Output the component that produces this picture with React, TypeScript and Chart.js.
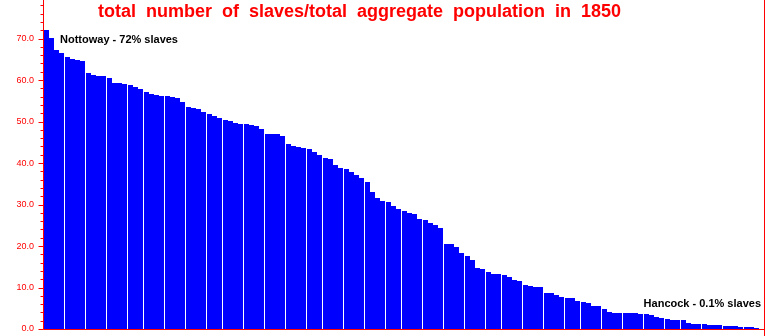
import { useEffect, useRef } from 'react';
import { Chart, registerables } from 'chart.js';

Chart.register(...registerables);

const TITLE = 'total number of slaves/total aggregate population in 1850';

// percent of slaves in total population, counties sorted descending
const slavePct = [
  72.0, 70.2, 67.3, 66.5, 65.5, 65.1, 64.8, 64.6, 61.7, 61.2, 61.0, 61.0, 60.5, 59.3,
  59.3, 59.0, 58.8, 58.3, 57.8, 57.1, 56.6, 56.4, 56.1, 56.1, 55.9, 55.7, 54.7, 53.5,
  53.2, 53.0, 52.3, 51.8, 51.3, 50.8, 50.4, 50.1, 49.6, 49.4, 49.4, 49.2, 48.9, 48.2,
  47.0, 47.0, 47.0, 46.5, 44.6, 44.1, 43.9, 43.6, 43.4, 42.7, 41.9, 41.2, 41.0,
  39.5, 38.8, 38.6, 37.8, 37.1, 36.4, 35.4, 33.0, 31.6, 30.8, 30.6, 29.6, 28.9, 28.4,
  27.9, 27.7, 26.5, 26.3, 25.5, 25.1, 24.3, 20.5, 20.5, 19.8, 18.3, 17.6,
  16.6, 14.7, 14.5, 13.7, 13.3, 13.3, 13.0, 12.5, 11.8, 11.6, 10.6, 10.4, 10.1, 10.1,
  8.7, 8.7, 8.2, 7.7, 7.5, 7.5, 6.7, 6.5, 6.3, 5.5, 5.5, 4.8,
  4.0, 3.9, 3.9, 3.9, 3.8, 3.8, 3.6, 3.5, 3.4, 2.9, 2.6, 2.3, 2.2, 2.1, 2.1, 1.5,
  1.2, 1.2, 1.1, 0.9, 0.9, 0.9, 0.7, 0.7, 0.7, 0.5, 0.5, 0.4, 0.3,
];

const countyRanks = slavePct.map((_, i) => String(i + 1));

const yLabelValues = [0, 10, 20, 30, 40, 50, 60, 70];
const yMinorTickValues = [
  0, 2, 4, 6, 8, 10, 12, 14, 16, 18, 20, 22, 24, 26, 28, 30, 32, 34, 36, 38, 40,
  42, 44, 46, 48, 50, 52, 54, 56, 58, 60, 62, 64, 66, 68, 70, 72, 74, 76, 78,
];

const topLabel = 'Nottoway - 72% slaves';
const bottomLabel = 'Hancock - 0.1% slaves';

const RED = '#ff0000';
const BLUE = '#0000ff';

// snap bars to whole pixels (integer width), like the original bitmap renderer
const pixelSnapPlugin = {
  id: 'pixelSnap',
  afterDatasetsUpdate(chart: any) {
    const meta = chart.getDatasetMeta(0);
    meta.data.forEach((el: any) => {
      const w = el.width;
      const left = Math.floor(el.x - w / 2);
      const iw = Math.floor(w);
      el.x = left + iw / 2;
      el.width = iw;
      el.y = Math.round(el.y);
    });
  },
};

const decorPlugin = {
  id: 'decor',
  afterDraw(chart: any) {
    const ctx = chart.ctx as CanvasRenderingContext2D;
    const ca = chart.chartArea;
    const y = chart.scales.y;
    const W = chart.width;
    const H = chart.height;
    ctx.save();
    ctx.strokeStyle = RED;
    ctx.lineWidth = 1;
    const axX = ca.left - 0.5;
    const axY = ca.bottom + 0.5;
    ctx.beginPath();
    ctx.moveTo(axX, 0);
    ctx.lineTo(axX, axY);
    ctx.moveTo(axX, axY);
    ctx.lineTo(W - 1.5, axY);
    ctx.moveTo(W - 1.5, 0);
    ctx.lineTo(W - 1.5, H);
    for (const v of yMinorTickValues) {
      const py = Math.round(y.getPixelForValue(v)) + 0.5;
      const len = v % 10 === 0 ? 5 : 3;
      ctx.moveTo(axX - len, py);
      ctx.lineTo(axX, py);
    }
    ctx.stroke();

    // title
    ctx.fillStyle = RED;
    ctx.font = 'bold 18px "Liberation Sans", Arial, sans-serif';
    (ctx as any).wordSpacing = '5px';
    ctx.textBaseline = 'alphabetic';
    ctx.textAlign = 'left';
    ctx.fillText(TITLE, 98, 17);
    (ctx as any).wordSpacing = '0px';

    // annotations
    ctx.fillStyle = '#000000';
    ctx.font = 'bold 11px "Liberation Sans", Arial, sans-serif';
    ctx.fillText(topLabel, ca.left + 16, 43);
    ctx.textAlign = 'right';
    ctx.fillText(bottomLabel, ca.right + 1, 307);
    ctx.restore();
  },
};

export default function App() {
  const ref = useRef<HTMLCanvasElement | null>(null);
  useEffect(() => {
    document.body.style.margin = '0';
    const canvas = ref.current;
    if (!canvas) return;
    const chart = new Chart(canvas, {
      type: 'bar',
      data: {
        labels: countyRanks,
        datasets: [
          {
            data: slavePct,
            backgroundColor: BLUE,
            borderWidth: 0,
            inflateAmount: 0,
            barPercentage: 1,
            categoryPercentage: 1,
          },
        ],
      },
      options: {
        responsive: false,
        animation: false,
        devicePixelRatio: 1,
        layout: { padding: { top: 0, left: 0, right: 6, bottom: 7 } },
        plugins: {
          legend: { display: false },
          tooltip: { enabled: false },
          title: { display: false },
        },
        scales: {
          x: { display: false },
          y: {
            min: 0,
            max: 79.3,
            grid: { display: false, drawTicks: false },
            border: { display: false },
            afterBuildTicks: (s: any) => {
              s.ticks = yLabelValues.map((v) => ({ value: v }));
            },
            afterFit: (s: any) => {
              s.width = 44;
              s.paddingTop = 0;
              s.paddingBottom = 0;
            },
            ticks: {
              color: RED,
              padding: 10,
              font: { family: '"Liberation Sans", Arial, sans-serif', size: 9 },
              callback: (v: any) => Number(v).toFixed(1),
            },
          },
        },
      },
      plugins: [pixelSnapPlugin, decorPlugin],
    });
    return () => chart.destroy();
  }, []);
  return (
    <div style={{ width: 766, height: 336, background: '#ffffff' }}>
      <canvas ref={ref} width={766} height={336} style={{ display: 'block' }} />
    </div>
  );
}
